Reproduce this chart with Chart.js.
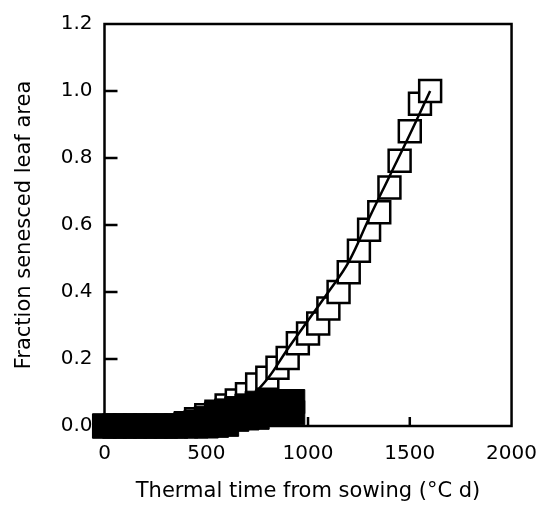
<!DOCTYPE html>
<html>
<head>
<meta charset="utf-8">
<script src="https://cdn.jsdelivr.net/npm/chart.js@4"></script>
<style>
  body { margin: 0; background: #fff; }
  #wrap { width: 553px; height: 516px; position: relative; }
</style>
</head>
<body>
<div id="wrap"><canvas id="diagram"></canvas></div>
<script>
// open squares (fraction senesced, upper curve)
const openX = [0, 50, 100, 150, 200, 250, 300, 350, 400, 450, 500, 550, 600, 650, 700, 750, 800,
    850, 900, 950, 1000, 1050, 1100, 1150, 1200, 1250, 1300, 1350, 1400, 1450, 1500, 1550, 1600];
const openY = [0, 0, 0, 0, 0, 0, 0, 0, 0.008, 0.02, 0.032, 0.043, 0.061, 0.076, 0.095, 0.124, 0.144,
    0.174, 0.203, 0.247, 0.276, 0.306, 0.351, 0.40, 0.459, 0.523, 0.586, 0.638, 0.712, 0.792, 0.88, 0.962, 1.0];

// fitted curve through the open squares
const fitX = [650, 700, 800, 900, 1000, 1100, 1200, 1300, 1400, 1500, 1600];
const fitY = [0.05, 0.075, 0.14, 0.23, 0.315, 0.40, 0.49, 0.62, 0.745, 0.87, 1.0];

// filled squares (two overlapping sets)
const filledX = [0, 50, 100, 150, 200, 250, 300, 350, 400, 450, 500, 550, 600, 650, 700, 750, 800, 850, 900, 925];
const filledUpperY = [0, 0, 0, 0, 0, 0, 0, 0, 0.005, 0.012, 0.022, 0.036, 0.045, 0.052, 0.06, 0.068, 0.072, 0.073, 0.073, 0.073];
const filledLowerY = [0, 0, 0, 0, 0, 0, 0, 0, 0, 0, 0, 0.002, 0.005, 0.02, 0.024, 0.026, 0.038, 0.038, 0.04, 0.04];

// tick labels
const xTicks = [0, 500, 1000, 1500, 2000];
const yTicks = [0, 0.2, 0.4, 0.6, 0.8, 1.0, 1.2];

const pts = (xs, ys) => xs.map((x, i) => ({ x: x, y: ys[i] }));

// box around the plot + inward tick marks
const frame = {
    id: 'frame',
    beforeDatasetsDraw(chart) {
        const { ctx, chartArea: a, scales: { x, y } } = chart;
        ctx.save();
        ctx.strokeStyle = '#000';
        ctx.lineWidth = 2.5;
        ctx.strokeRect(a.left, a.top, a.right - a.left, a.bottom - a.top);
        ctx.beginPath();
        yTicks.forEach(v => {
            const py = y.getPixelForValue(v);
            if (py > a.top + 2 && py < a.bottom - 2) {
                ctx.moveTo(a.left, py);
                ctx.lineTo(a.left + 13, py);
            }
        });
        xTicks.forEach(v => {
            const px = x.getPixelForValue(v);
            if (px > a.left + 2 && px < a.right - 2) {
                ctx.moveTo(px, a.bottom);
                ctx.lineTo(px, a.bottom - 9);
            }
        });
        ctx.stroke();
        ctx.restore();
    }
};

const font = '"DejaVu Sans", sans-serif';

new Chart(document.getElementById('diagram'), {
    type: 'scatter',
    data: {
        datasets: [
            {
                label: 'filled',
                data: pts(filledX, filledUpperY),
                pointStyle: 'rect',
                pointRadius: 17,
                pointBackgroundColor: '#000',
                pointBorderColor: '#000',
                pointBorderWidth: 1,
                clip: false
            },
            {
                label: 'filled 2',
                data: pts(filledX, filledLowerY),
                pointStyle: 'rect',
                pointRadius: 17,
                pointBackgroundColor: '#000',
                pointBorderColor: '#000',
                pointBorderWidth: 1,
                clip: false
            },
            {
                label: 'fit',
                type: 'line',
                data: pts(fitX, fitY),
                showLine: true,
                borderColor: '#000',
                borderWidth: 2.5,
                pointRadius: 0,
                tension: 0.4,
                fill: false,
                clip: false
            },
            {
                label: 'open',
                data: pts(openX, openY),
                pointStyle: 'rect',
                pointRadius: 15.5,
                pointBackgroundColor: '#fff',
                pointBorderColor: '#000',
                pointBorderWidth: 2.5,
                clip: false
            }
        ]
    },
    options: {
        responsive: true,
        maintainAspectRatio: false,
        animation: false,
        events: [],
        layout: { padding: { top: 18, right: 38.5, bottom: 0, left: 0 } },
        plugins: { legend: { display: false }, tooltip: { enabled: false } },
        scales: {
            x: {
                type: 'linear',
                min: 0,
                max: 2000,
                afterBuildTicks: s => { s.ticks = xTicks.map(v => ({ value: v })); },
                afterFit: s => { s.height = 90; },
                grid: { display: false, drawTicks: false },
                border: { display: false },
                ticks: {
                    color: '#000',
                    padding: 16,
                    maxRotation: 0,
                    font: { family: font, size: 20 },
                    callback: v => String(v)
                },
                title: {
                    display: true,
                    text: 'Thermal time from sowing (°C d)',
                    color: '#000',
                    font: { family: font, size: 21 },
                    padding: { top: 0, bottom: 12 }
                }
            },
            y: {
                type: 'linear',
                min: 0,
                max: 1.2,
                afterBuildTicks: s => { s.ticks = yTicks.map(v => ({ value: v })); },
                afterFit: s => { s.width = 104.5; },
                grid: { display: false, drawTicks: false },
                border: { display: false },
                ticks: {
                    color: '#000',
                    padding: 12,
                    font: { family: font, size: 20 },
                    callback: v => v.toFixed(1)
                },
                title: {
                    display: true,
                    text: 'Fraction senesced leaf area',
                    color: '#000',
                    font: { family: font, size: 21 },
                    padding: { top: 12, bottom: 0 }
                }
            }
        }
    },
    plugins: [frame]
});
</script>
</body>
</html>
